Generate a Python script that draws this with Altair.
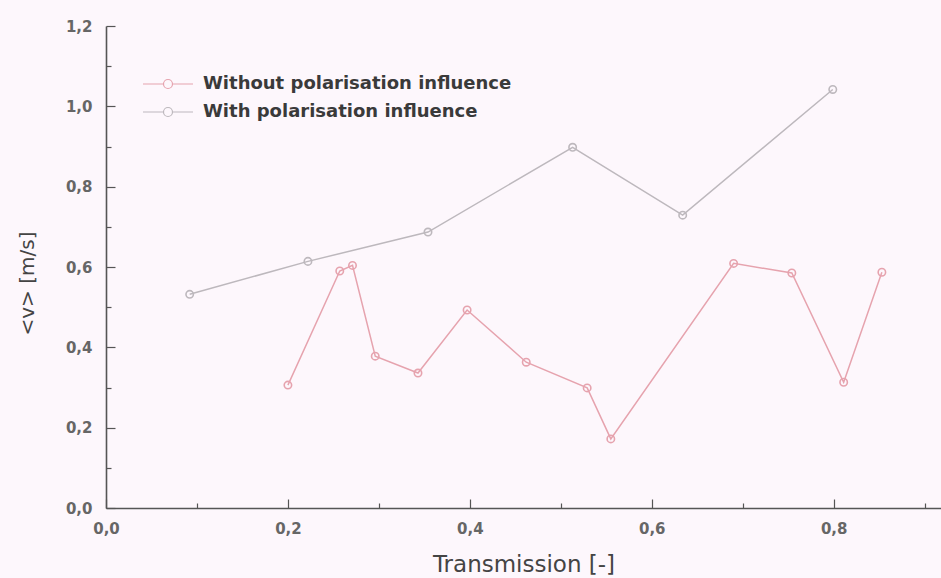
import altair as alt
import pandas as pd

# Mean velocity vs. transmission, measured with and without polarisation influence
without_x = [0.200, 0.257, 0.271, 0.296, 0.343, 0.397, 0.462, 0.529, 0.555, 0.690, 0.754, 0.811, 0.853]
without_v = [0.306, 0.590, 0.604, 0.378, 0.336, 0.493, 0.363, 0.299, 0.172, 0.609, 0.585, 0.313, 0.587]

with_x = [0.092, 0.222, 0.354, 0.513, 0.634, 0.799]
with_v = [0.532, 0.614, 0.687, 0.898, 0.729, 1.042]

series_names = ["Without polarisation influence", "With polarisation influence"]
series_colors = ["#e6a3ae", "#bdb8bd"]

x_ticks = [0.0, 0.1, 0.2, 0.3, 0.4, 0.5, 0.6, 0.7, 0.8, 0.9]
y_ticks = [0.0, 0.1, 0.2, 0.3, 0.4, 0.5, 0.6, 0.7, 0.8, 0.9, 1.0, 1.1, 1.2]

rows = []
for i, (x, v) in enumerate(zip(without_x, without_v)):
    rows.append({"series": series_names[0], "order": i, "T": x, "v": v})
for i, (x, v) in enumerate(zip(with_x, with_v)):
    rows.append({"series": series_names[1], "order": i, "T": x, "v": v})
df = pd.DataFrame(rows)

FONT = "DejaVu Sans"
major = "abs(round(datum.value * 10) % 2) < 0.5"
label_expr = f"{major} ? replace(format(datum.value, '.1f'), '.', ',') : ''"

# Legend glyph: a short line with an open circle in the middle
legend_path = "M-5,0H-0.9M0.9,0H5M-0.9,0A0.9,0.9,0,1,1,0.9,0A0.9,0.9,0,1,1,-0.9,0Z"

# Inward-pointing ticks: long on labelled values, short in between
inward_ticks = {"condition": {"test": major, "value": -9}, "value": -5}

x_enc = alt.X(
    "T:Q",
    scale=alt.Scale(domain=[0, 0.918], nice=False, zero=False),
    axis=alt.Axis(
        title="Transmission [-]",
        values=x_ticks,
        labelExpr=label_expr,
        labelFlush=False,
        grid=False,
        tickSize=inward_ticks,
        labelPadding=22,
        titlePadding=17,
    ),
)
y_enc = alt.Y(
    "v:Q",
    scale=alt.Scale(domain=[0, 1.2], nice=False),
    axis=alt.Axis(
        title="<v> [m/s]",
        values=y_ticks,
        labelExpr=label_expr,
        labelFlush=False,
        grid=False,
        tickSize=inward_ticks,
        labelPadding=23,
        titlePadding=28,
        titleY=257,
    ),
)
color_enc = alt.Color(
    "series:N",
    scale=alt.Scale(domain=series_names, range=series_colors),
    legend=alt.Legend(
        title=None,
        orient="none",
        legendX=53,
        legendY=49,
        symbolType=legend_path,
        symbolSize=100,
        symbolStrokeWidth=1.2,
        symbolFillColor="transparent",
        labelFont=FONT,
        labelFontSize=18,
        labelFontWeight="bold",
        labelColor="#3a3a3a",
        labelOffset=26,
        labelLimit=600,
        rowPadding=10,
    ),
)

base = alt.Chart(df).encode(x=x_enc, y=y_enc, color=color_enc, detail="series:N", order="order:Q")

lines = base.mark_line(strokeWidth=1.5)
points = base.mark_point(shape="circle", filled=False, size=55, strokeWidth=1.6, opacity=1)

chart = (
    alt.layer(lines, points)
    .properties(
        width=835,
        height=482,
        autosize=alt.AutoSizeParams(type="none"),
        padding={"left": 106, "top": 26, "right": 0, "bottom": 70},
        background="#fdf7fc",
    )
    .configure_view(stroke=None)
    .configure_axis(
        domainColor="#555555",
        domainWidth=1.6,
        tickColor="#555555",
        tickWidth=1.2,
        labelFont=FONT,
        labelFontSize=15,
        labelFontWeight="bold",
        labelColor="#666666",
        titleFont=FONT,
        titleFontWeight="normal",
        titleColor="#444444",
    )
    .configure_axisX(titleFontSize=23)
    .configure_axisY(titleFontSize=20)
)

chart.save("out.html", embed_options={"renderer": "svg", "actions": False})
